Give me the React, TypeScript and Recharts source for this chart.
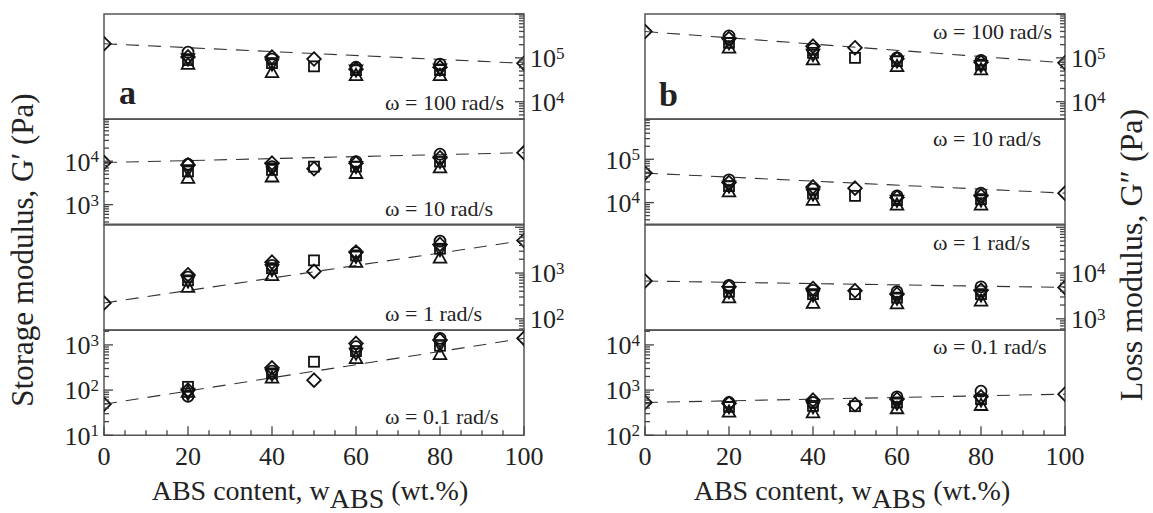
import React from 'react';
import { ComposedChart, Scatter, Line, XAxis, YAxis, ReferenceArea } from 'recharts';

const FONT = '"Liberation Serif", "Times New Roman", serif';

// ABS content (wt.%) positions of each marker family
const contentPct = [20, 40, 60, 80];
const squarePct = [20, 40, 50, 60, 80];
const diamondPct = [0, 20, 40, 50, 60, 80, 100];

const frequencyLabels = ['ω = 100 rad/s', 'ω = 10 rad/s', 'ω = 1 rad/s', 'ω = 0.1 rad/s'];
const xTickValues = [0, 5, 10, 15, 20, 25, 30, 35, 40, 45, 50, 55, 60, 65, 70, 75, 80, 85, 90, 95, 100];
const xTickLabels = [0, 20, 40, 60, 80, 100];

// Storage modulus G' (Pa); rows: ω = 100, 10, 1, 0.1 rad/s
const storageCircle = [
  [1.35e5, 9.4e4, 6.1e4, 7.2e4],
  [8.5e3, 7.5e3, 9.8e3, 1.45e4],
  [817, 1470, 2800, 4980],
  [73, 263, 912, 1400],
];
const storageSquare = [
  [8.9e4, 7.6e4, 6.4e4, 5.25e4, 5.25e4],
  [5.8e3, 6.3e3, 7.5e3, 7.5e3, 9.8e3],
  [692, 1280, 1890, 2430, 3400],
  [118, 234, 424, 731, 960],
];
const storageTriUp = [
  [7.2e4, 4.7e4, 4.0e4, 4.0e4],
  [4.1e3, 4.4e3, 5.3e3, 7.1e3],
  [494, 890, 1730, 2160],
  [91, 187, 503, 617],
];
const storageTriDown = [
  [9.4e4, 7.2e4, 5.25e4, 5.5e4],
  [6.3e3, 6.9e3, 7.5e3, 9.8e3],
  [668, 1180, 2300, 3230],
  [84, 222, 650, 993],
];
const storageDiamond = [
  [2.1e5, 1.05e5, 1.04e5, 9.4e4, 5.5e4, 6.1e4, 7.5e4],
  [9.3e3, 8.2e3, 9.0e3, 6.7e3, 9.0e3, 1.2e4, 1.57e4],
  [221, 920, 1730, 1087, 2860, 4220, 5150],
  [48.7, 100, 311, 166, 1080, 1280, 1400],
];

// Loss modulus G'' (Pa); rows: ω = 100, 10, 1, 0.1 rad/s
const lossCircle = [
  [3.16e5, 1.6e5, 1.0e5, 8.8e4],
  [3.35e4, 2.04e4, 1.43e4, 1.65e4],
  [5.4e3, 4.2e3, 3.9e3, 5.0e3],
  [531, 531, 708, 946],
];
const lossSquare = [
  [2.2e5, 1.3e5, 1.0e5, 8.4e4, 7.0e4],
  [2.4e4, 1.62e4, 1.43e4, 1.14e4, 1.2e4],
  [3.9e3, 3.46e3, 3.46e3, 2.9e3, 3.46e3],
  [425, 447, 440, 531, 630],
];
const lossTriUp = [
  [1.7e5, 9.1e4, 6.4e4, 5.4e4],
  [1.8e4, 1.14e4, 8.9e3, 8.9e3],
  [2.9e3, 2.2e3, 2.16e3, 2.47e3],
  [329, 319, 392, 463],
];
const lossTriDown = [
  [2.2e5, 1.19e5, 8.4e4, 6.6e4],
  [2.4e4, 1.57e4, 1.12e4, 1.14e4],
  [3.9e3, 3.3e3, 2.8e3, 3.3e3],
  [425, 425, 505, 598],
];
const lossDiamond = [
  [3.98e5, 2.75e5, 1.85e5, 1.7e5, 9.5e4, 7.9e4, 7.7e4],
  [4.8e4, 2.9e4, 2.3e4, 2.15e4, 1.31e4, 1.43e4, 1.65e4],
  [6.7e3, 5.0e3, 4.6e3, 4.1e3, 3.46e3, 4.2e3, 4.85e3],
  [531, 505, 598, 480, 630, 708, 813],
];

// axis decades (log10 range) and labelled powers of ten per sub-panel
const storageExpRange = [[3.6, 6.0], [2.55, 4.97], [1.75, 4.05], [1.0, 3.33]];
const storageExpLabels = [[5, 4], [4, 3], [3, 2], [3, 2, 1]];
const lossExpRange = [[3.6, 6.0], [3.5, 5.93], [2.75, 5.05], [2.0, 4.33]];
const lossExpLabels = [[5, 4], [5, 4], [4, 3], [4, 3, 2]];
const labelSides = ['right', 'left', 'right', 'left'];

const STROKE = '#111';
const FRAME = '#555';
const TICK = '#444';

const zip = (xs: number[], ys: number[]) => xs.map((x, i) => ({ x, y: ys[i] }));

const makeShape = (kind: string) => (props: any) => {
  const { cx, cy } = props;
  if (cx == null || cy == null || isNaN(cx) || isNaN(cy)) return <g />;
  const common = { fill: 'none', stroke: STROKE, strokeWidth: 1.8 };
  switch (kind) {
    case 'circle':
      return <circle cx={cx} cy={cy} r={5.5} {...common} />;
    case 'square':
      return <rect x={cx - 5} y={cy - 5} width={10} height={10} {...common} />;
    case 'triUp':
      return <polygon points={`${cx},${cy - 6.5} ${cx - 6.3},${cy + 4.8} ${cx + 6.3},${cy + 4.8}`} {...common} />;
    case 'triDown':
      return <polygon points={`${cx},${cy + 6.5} ${cx - 6.3},${cy - 4.8} ${cx + 6.3},${cy - 4.8}`} {...common} />;
    default:
      return <polygon points={`${cx},${cy - 6.8} ${cx + 6.8},${cy} ${cx},${cy + 6.8} ${cx - 6.8},${cy}`} {...common} />;
  }
};

const YTick = (props: any) => {
  const { x, y, payload, side, labels } = props;
  const v = payload.value;
  const e = Math.log10(v);
  const re = Math.round(e);
  const isMajor = Math.abs(e - re) < 1e-6;
  const px = Number(x);
  const py = Number(y);
  const dir = side === 'left' ? 1 : -1;
  return (
    <g>
      <path d={`M${px},${py}L${px + dir * (isMajor ? 9 : 5)},${py}`} stroke={TICK} strokeWidth={1.3} fill="none" />
      {isMajor && labels.includes(re) ? (
        <text
          x={side === 'left' ? px - 5 : px + 6}
          y={py}
          dy="0.36em"
          textAnchor={side === 'left' ? 'end' : 'start'}
          fontFamily={FONT}
          fontSize={26}
          fill="#222"
        >
          10
          <tspan dy="-0.5em" fontSize={17}>{re}</tspan>
        </text>
      ) : null}
    </g>
  );
};

const XTick = (props: any) => {
  const { x, y, payload } = props;
  const v = payload.value;
  const px = Number(x);
  const py = Number(y);
  const major = xTickLabels.includes(v);
  return (
    <g>
      <path d={`M${px},${py}L${px},${py - (major ? 9 : 5)}`} stroke={TICK} strokeWidth={1.3} fill="none" />
      {major ? (
        <text x={px} y={py + 30} textAnchor="middle" fontFamily={FONT} fontSize={26} fill="#222">
          {v}
        </text>
      ) : null}
    </g>
  );
};

function SubPanel(props: any) {
  const { left, top, w, h, expRange, labelExps, side, bottom, circle, square, triUp, triDown, diamond } = props;
  const lo = Math.pow(10, expRange[0]);
  const hi = Math.pow(10, expRange[1]);
  const ticks: number[] = [];
  for (let n = Math.floor(expRange[0]); n <= Math.ceil(expRange[1]); n++) {
    for (let k = 1; k <= 9; k++) {
      const v = k * Math.pow(10, n);
      if (v >= lo * 0.9999 && v <= hi * 1.0001) ticks.push(v);
    }
  }
  const padT = 12;
  const padB = bottom ? 40 : 12;
  const padS = 70;
  const lineData = [
    { x: diamondPct[0], y: diamond[0] },
    { x: diamondPct[diamondPct.length - 1], y: diamond[diamond.length - 1] },
  ];
  return (
    <div style={{ position: 'absolute', left: left - padS, top: top - padT }}>
      <ComposedChart
        width={w + 2 * padS}
        height={h + padT + padB}
        margin={{ top: padT, bottom: bottom ? 0 : padB, left: side === 'left' ? 0 : padS, right: side === 'right' ? 0 : padS }}
      >
        <XAxis
          dataKey="x"
          type="number"
          domain={[0, 100]}
          allowDataOverflow
          ticks={xTickValues}
          interval={0}
          hide={!bottom}
          height={40}
          tickSize={0}
          tickMargin={0}
          axisLine={false}
          tickLine={false}
          tick={(p: any) => <XTick {...p} />}
        />
        <YAxis
          dataKey="y"
          type="number"
          scale="log"
          domain={[lo, hi]}
          allowDataOverflow
          orientation={side}
          width={padS}
          ticks={ticks}
          interval={0}
          tickSize={0}
          tickMargin={0}
          axisLine={false}
          tickLine={false}
          tick={(p: any) => <YTick {...p} side={side} labels={labelExps} />}
        />
        <ReferenceArea
          x1={0}
          x2={100}
          y1={lo}
          y2={hi}
          fill="transparent"
          fillOpacity={0}
          stroke={FRAME}
          strokeWidth={1.5}
          ifOverflow="visible"
        />
        <Line
          data={lineData}
          dataKey="y"
          stroke="#333"
          strokeWidth={1.1}
          strokeDasharray="13 9"
          dot={false}
          isAnimationActive={false}
        />
        <Scatter data={zip(contentPct, circle)} shape={makeShape('circle')} isAnimationActive={false} />
        <Scatter data={zip(squarePct, square)} shape={makeShape('square')} isAnimationActive={false} />
        <Scatter data={zip(contentPct, triUp)} shape={makeShape('triUp')} isAnimationActive={false} />
        <Scatter data={zip(contentPct, triDown)} shape={makeShape('triDown')} isAnimationActive={false} />
        <Scatter data={zip(diamondPct, diamond)} shape={makeShape('diamond')} isAnimationActive={false} />
      </ComposedChart>
    </div>
  );
}

const PLOT_W = 420;
const SUB_H = 105.25;
const TOP = 14;
const A_LEFT = 104;
const B_LEFT = 645;

const aOmegaBaselines = [110, 216, 321, 424];
const bOmegaBaselines = [39, 146, 250, 354];

export default function App() {
  const rows = [0, 1, 2, 3];
  return (
    <div style={{ position: 'absolute', left: 0, top: 0, width: 1153, height: 513, background: '#fff', overflow: 'hidden' }}>
      {rows.map((i) => (
        <SubPanel
          key={'a' + i}
          left={A_LEFT}
          top={TOP + i * SUB_H}
          w={PLOT_W}
          h={SUB_H}
          expRange={storageExpRange[i]}
          labelExps={storageExpLabels[i]}
          side={labelSides[i]}
          bottom={i === 3}
          circle={storageCircle[i]}
          square={storageSquare[i]}
          triUp={storageTriUp[i]}
          triDown={storageTriDown[i]}
          diamond={storageDiamond[i]}
        />
      ))}
      {rows.map((i) => (
        <SubPanel
          key={'b' + i}
          left={B_LEFT}
          top={TOP + i * SUB_H}
          w={PLOT_W}
          h={SUB_H}
          expRange={lossExpRange[i]}
          labelExps={lossExpLabels[i]}
          side={labelSides[i]}
          bottom={i === 3}
          circle={lossCircle[i]}
          square={lossSquare[i]}
          triUp={lossTriUp[i]}
          triDown={lossTriDown[i]}
          diamond={lossDiamond[i]}
        />
      ))}
      <svg width={1153} height={513} style={{ position: 'absolute', left: 0, top: 0, pointerEvents: 'none' }}>
        <g fontFamily={FONT} fill="#222">
          {rows.map((i) => (
            <text key={'ta' + i} x={385} y={aOmegaBaselines[i]} fontSize={22}>{frequencyLabels[i]}</text>
          ))}
          {rows.map((i) => (
            <text key={'tb' + i} x={933} y={bOmegaBaselines[i]} fontSize={22}>{frequencyLabels[i]}</text>
          ))}
          <text x={119} y={104} fontSize={34} fontWeight="bold">a</text>
          <text x={659} y={106} fontSize={34} fontWeight="bold">b</text>
          <text x={310} y={500} fontSize={28} textAnchor="middle">
            ABS content, w<tspan dy={8}>ABS</tspan><tspan dy={-8}> (wt.%)</tspan>
          </text>
          <text x={852} y={500} fontSize={28} textAnchor="middle">
            ABS content, w<tspan dy={8}>ABS</tspan><tspan dy={-8}> (wt.%)</tspan>
          </text>
          <text transform="translate(33,250) rotate(-90)" fontSize={31} textAnchor="middle">
            Storage modulus, G′ (Pa)
          </text>
          <text transform="translate(1142,255) rotate(-90)" fontSize={32} textAnchor="middle">
            Loss modulus, G″ (Pa)
          </text>
        </g>
      </svg>
    </div>
  );
}
